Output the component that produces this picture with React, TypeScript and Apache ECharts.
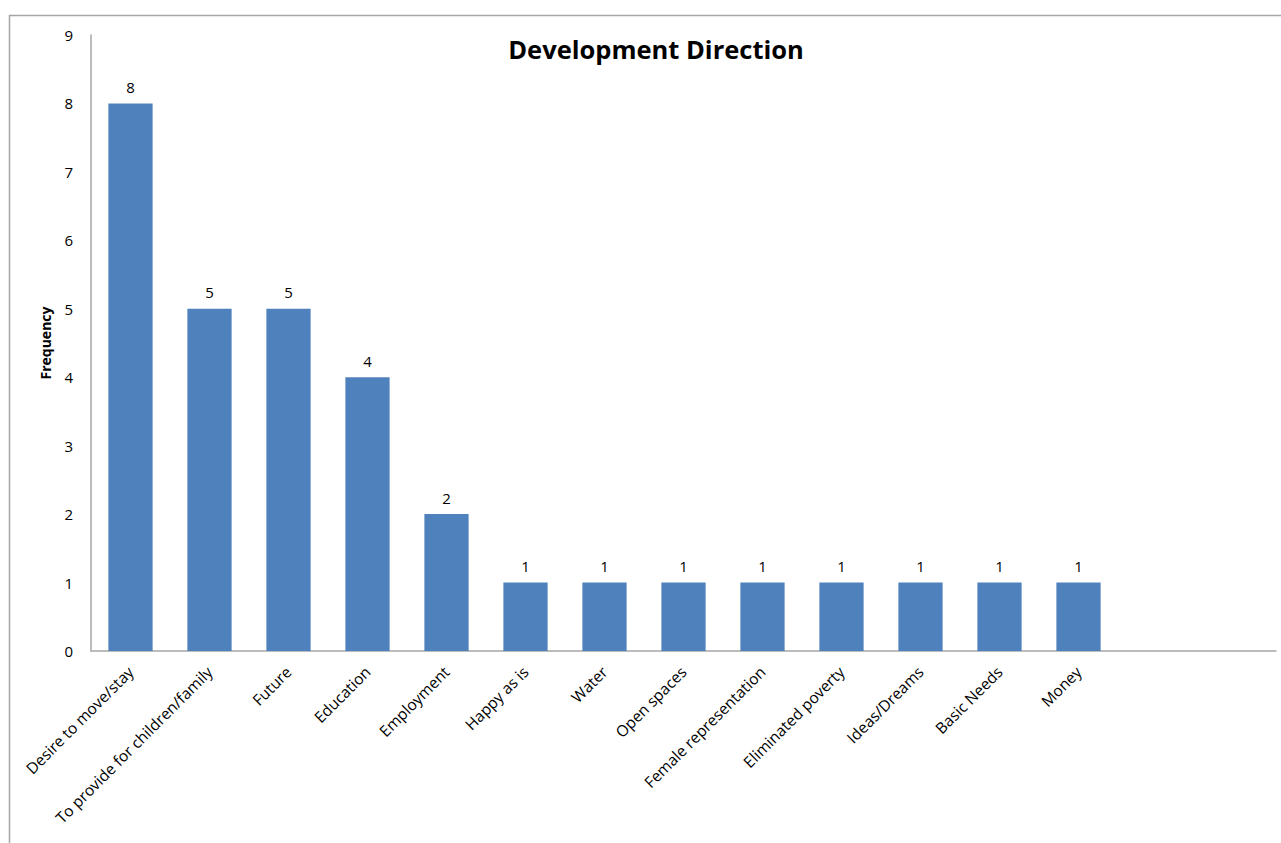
import React, { useEffect, useRef } from "react";
import * as echarts from "echarts";

const categories = [
  "Desire to move/stay",
  "To provide for children/family",
  "Future",
  "Education",
  "Employment",
  "Happy as is",
  "Water",
  "Open spaces",
  "Female representation",
  "Eliminated poverty",
  "Ideas/Dreams",
  "Basic Needs",
  "Money",
  "",
  "",
];
const values: (number | string)[] = [8, 5, 5, 4, 2, 1, 1, 1, 1, 1, 1, 1, 1, "-", "-"];
const yTicks = { min: 0, max: 9, interval: 1 };
const title = "Development Direction";
const yName = "Frequency";

const FONT = "'Open Sans', Lato, sans-serif";

export default function App() {
  const ref = useRef<HTMLDivElement>(null);
  useEffect(() => {
    document.body.style.margin = "0";
    const chart = echarts.init(ref.current!, null, { renderer: "svg" });
    chart.setOption({
      animation: false,
      backgroundColor: "#ffffff",
      textStyle: { fontFamily: FONT },
      title: {
        text: title,
        left: 651,
        textAlign: "center",
        top: 31,
        textStyle: { fontSize: 25.5, fontWeight: "bold", color: "#000", fontFamily: FONT },
      },
      graphic: [
        {
          type: "rect",
          shape: { x: 9.5, y: 15.5, width: 1400, height: 1000 },
          style: { fill: "none", stroke: "#a6a6a6", lineWidth: 1.5 },
          silent: true,
        },
      ],
      grid: { left: 91, top: 35, right: 5, bottom: 192, containLabel: false },
      xAxis: {
        type: "category",
        data: categories,
        axisLine: { show: true, lineStyle: { color: "#a6a6a6", width: 1.5 } },
        axisTick: { show: false },
        axisLabel: {
          rotate: 45,
          interval: 0,
          fontSize: 15.5,
          color: "#000",
          margin: 18,
          fontFamily: FONT,
        },
      },
      yAxis: {
        type: "value",
        min: yTicks.min,
        max: yTicks.max,
        interval: yTicks.interval,
        name: yName,
        nameLocation: "middle",
        nameRotate: 90,
        nameGap: 39,
        nameTextStyle: { fontSize: 14, fontWeight: "bold", color: "#000", fontFamily: FONT },
        axisLine: { show: true, lineStyle: { color: "#a6a6a6", width: 1.5 } },
        axisTick: { show: false },
        splitLine: { show: false },
        axisLabel: { fontSize: 15, color: "#000", margin: 18, fontFamily: FONT },
      },
      series: [
        {
          type: "bar",
          data: values,
          barWidth: "56%",
          itemStyle: { color: "#4F81BD" },
          label: {
            show: true,
            position: "top",
            distance: 9,
            fontSize: 15,
            color: "#000",
            fontFamily: FONT,
          },
        },
      ],
    });
    return () => chart.dispose();
  }, []);
  return (
    <div
      ref={ref}
      style={{ position: "fixed", left: 0, top: 0, width: 1281, height: 843 }}
    />
  );
}
